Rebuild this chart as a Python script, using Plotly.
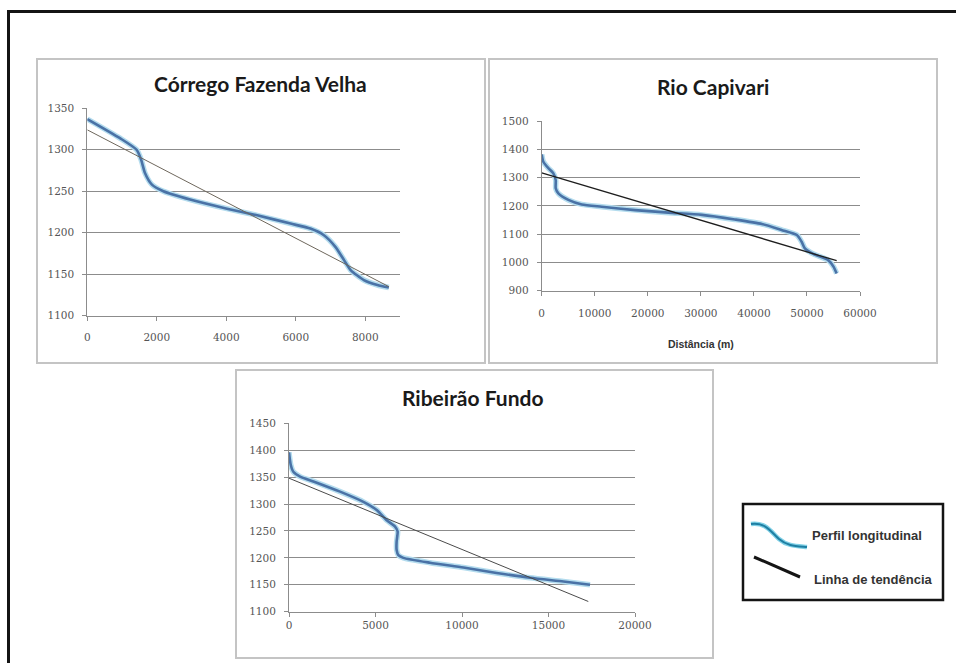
import plotly.graph_objects as go

W, H = 956, 663

# --- Córrego Fazenda Velha: distance (m) / elevation (m)
cfv_dist = [0, 940, 1420, 1550, 1660, 1860, 2190, 2960, 4020, 4890, 5850, 6420, 6810,
            7140, 7390, 7580, 7960, 8350, 8680]
cfv_elev = [1337, 1314, 1300, 1288, 1272, 1258, 1250, 1240, 1229, 1221, 1211, 1205, 1197,
            1183, 1167, 1155, 1143, 1137, 1134]
cfv_trend_dist = [0, 8680]
cfv_trend_elev = [1324, 1135]

# --- Rio Capivari
rc_dist = [0, 310, 1260, 2200, 2640, 2640, 3140, 5030, 7540, 11300, 17600, 23900, 30200,
           36400, 41500, 45200, 48100, 49000, 49600, 51200, 54000, 55000, 55600]
rc_elev = [1382, 1356, 1333, 1315, 1291, 1262, 1244, 1221, 1205, 1197, 1185, 1176, 1168,
           1152, 1136, 1115, 1097, 1073, 1050, 1030, 1008, 985, 961]
rc_trend_dist = [0, 55600]
rc_trend_elev = [1317, 1006]

# --- Ribeirão Fundo
rf_dist = [0, 100, 250, 640, 1410, 2950, 4300, 5070, 5650, 6130, 6280, 6220, 6220, 6320,
           6610, 8150, 10080, 12000, 13930, 15860, 17400]
rf_elev = [1396, 1373, 1360, 1351, 1342, 1323, 1304, 1289, 1270, 1258, 1249, 1230, 1215, 1205,
           1200, 1191, 1182, 1172, 1163, 1156, 1150]
rf_trend_dist = [0, 17300]
rf_trend_elev = [1348, 1119]

titles = ["Córrego Fazenda Velha", "Rio Capivari", "Ribeirão Fundo"]
x_title_2 = "Distância (m)"
legend_labels = ["Perfil longitudinal", "Linha de tendência"]


def px(x):
    return x / W


def py(y):
    return 1 - y / H


PROFILE = "#4a72a6"
GLOW = "#b4dcee"
GRID = "#8c8c8c"
TICKFONT = dict(family="DejaVu Serif", size=10.5, color="#555555")

fig = go.Figure()

panels = [
    ("", cfv_dist, cfv_elev, cfv_trend_dist, cfv_trend_elev, "#6e675c", 1.0),
    ("2", rc_dist, rc_elev, rc_trend_dist, rc_trend_elev, "#1e1e1e", 1.3),
    ("3", rf_dist, rf_elev, rf_trend_dist, rf_trend_elev, "#4a4a4a", 1.0),
]

for suf, xd, yd, tx, ty, tcol, tw in panels:
    xa, ya = "x" + suf, "y" + suf
    fig.add_trace(go.Scatter(x=xd, y=yd, xaxis=xa, yaxis=ya, mode="lines",
                             line=dict(color=GLOW, width=5.5, shape="spline", smoothing=0.6),
                             hoverinfo="skip", showlegend=False))
    fig.add_trace(go.Scatter(x=xd, y=yd, xaxis=xa, yaxis=ya, mode="lines",
                             line=dict(color=PROFILE, width=2.6, shape="spline", smoothing=0.6),
                             showlegend=False))
    fig.add_trace(go.Scatter(x=tx, y=ty, xaxis=xa, yaxis=ya, mode="lines",
                             line=dict(color=tcol, width=tw), showlegend=False))

axis_common = dict(showgrid=False, zeroline=False, showline=True, linecolor=GRID, linewidth=1,
                   ticks="outside", ticklen=4, tickcolor=GRID, tickfont=TICKFONT,
                   tickformat="d")
yaxis_common = dict(showgrid=True, gridcolor=GRID, gridwidth=1, zeroline=False, showline=True,
                    linecolor=GRID, linewidth=1, ticks="outside", ticklen=4, tickcolor=GRID,
                    tickfont=TICKFONT, ticklabelstandoff=6, tickformat="d")

fig.update_layout(
    autosize=True, margin=dict(l=0, r=0, t=0, b=0, autoexpand=False),
    paper_bgcolor="white", plot_bgcolor="rgba(0,0,0,0)", showlegend=False,
    xaxis=dict(domain=[px(87.3), px(400)], range=[0, 9000], dtick=2000, anchor="y",
               ticklabelstandoff=8, **axis_common),
    yaxis=dict(domain=[py(315.7), py(108.3)], range=[1100, 1350], dtick=50, anchor="x",
               **yaxis_common),
    xaxis2=dict(domain=[px(541.7), px(860)], range=[0, 60000], dtick=10000, anchor="y2",
                ticklabelstandoff=9,
                title=dict(text=x_title_2, standoff=22,
                           font=dict(family="Liberation Sans", size=10.5, color="#333333",
                                     weight="bold")),
                **axis_common),
    yaxis2=dict(domain=[py(290.7), py(121)], range=[900, 1500], dtick=100, anchor="x2",
                **yaxis_common),
    xaxis3=dict(domain=[px(289), px(635)], range=[0, 20000], dtick=5000, anchor="y3",
                ticklabelstandoff=0, **axis_common),
    yaxis3=dict(domain=[py(611.7), py(423.3)], range=[1100, 1450], dtick=50, anchor="x3",
                **yaxis_common),
)

shapes = []
# outer black frame (top and left edges)
shapes.append(dict(type="line", xref="paper", yref="paper", x0=px(7), x1=1, y0=py(11.5),
                   y1=py(11.5), line=dict(color="#141414", width=3)))
shapes.append(dict(type="line", xref="paper", yref="paper", x0=px(8.5), x1=px(8.5), y0=py(10),
                   y1=0, line=dict(color="#141414", width=3)))
# chart panel borders
for x0, y0, x1, y1 in [(37, 59, 485, 363), (489, 59, 937, 363), (236, 370, 713, 658)]:
    shapes.append(dict(type="rect", xref="paper", yref="paper", x0=px(x0), x1=px(x1),
                       y0=py(y1), y1=py(y0), line=dict(color="#c4c4c4", width=2),
                       layer="below"))
# legend box
shapes.append(dict(type="rect", xref="paper", yref="paper", x0=px(743), x1=px(943),
                   y0=py(600), y1=py(504), line=dict(color="#141414", width=2.5)))


def curve_path(pts):
    (ax, ay), rest = pts[0], pts[1:]
    s = f"M {px(ax)},{py(ay)}"
    for i in range(0, len(rest), 3):
        (b1x, b1y), (b2x, b2y), (ex, ey) = rest[i:i + 3]
        s += f" C {px(b1x)},{py(b1y)} {px(b2x)},{py(b2y)} {px(ex)},{py(ey)}"
    return s


icon = [(751, 524), (766, 522), (771, 532), (779, 539), (787, 546), (796, 546), (807, 547)]
shapes.append(dict(type="path", xref="paper", yref="paper", path=curve_path(icon),
                   line=dict(color="#7fd0e6", width=4.5)))
shapes.append(dict(type="path", xref="paper", yref="paper", path=curve_path(icon),
                   line=dict(color="#1f7fa3", width=2)))
shapes.append(dict(type="line", xref="paper", yref="paper", x0=px(754), x1=px(800),
                   y0=py(557), y1=py(577), line=dict(color="#141414", width=3)))

annotations = []
title_font = dict(family="Lato", size=21, color="#1a1a1a", weight="bold")
for text, cx, cy in [(titles[0], 260, 83), (titles[1], 713, 87), (titles[2], 473, 397)]:
    annotations.append(dict(text=text, xref="paper", yref="paper", x=px(cx), y=py(cy),
                            xanchor="center", yanchor="middle", showarrow=False,
                            font=title_font))
leg_font = dict(family="Liberation Sans", size=13, color="#333333", weight="bold")
annotations.append(dict(text=legend_labels[0], xref="paper", yref="paper", x=px(810), y=py(535),
                        xanchor="left", yanchor="middle", showarrow=False, font=leg_font))
annotations.append(dict(text=legend_labels[1], xref="paper", yref="paper", x=px(812), y=py(579),
                        xanchor="left", yanchor="middle", showarrow=False, font=leg_font))

fig.update_layout(shapes=shapes, annotations=annotations)
# the figure fills the whole window; the page body carries no margin
fig.write_html("out.html", default_width="100vw", default_height="100vh",
               config={"responsive": True},
               post_script="document.body.style.margin='0';"
                           "document.body.style.overflow='hidden';"
                           "window.dispatchEvent(new Event('resize'));")
